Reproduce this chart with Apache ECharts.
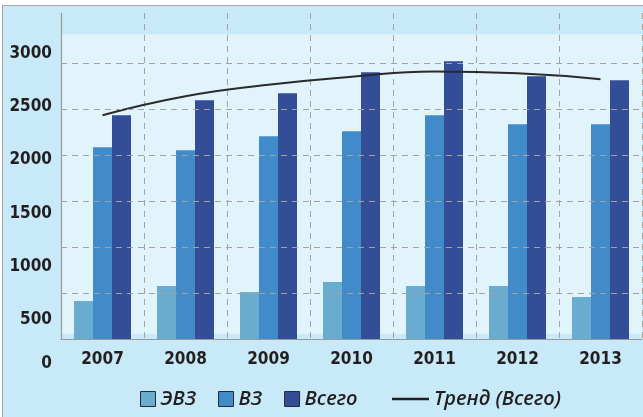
<!DOCTYPE html>
<html>
<head>
<meta charset="utf-8">
<script src="https://cdn.jsdelivr.net/npm/echarts@6/dist/echarts.min.js"></script>
<style>
  html, body { margin: 0; padding: 0; background: #fff; overflow: hidden; }
  .frame {
    position: absolute; left: 2px; top: 5px; width: 700px; height: 500px;
    background: #c7e9f8; border: 1.5px solid #a6a6a6;
  }
  #chart { position: absolute; left: 0; top: 0; width: 643px; height: 417px; }
</style>
</head>
<body>
<div class="frame"></div>
<div id="chart"></div>
<script>
const years = ['2007', '2008', '2009', '2010', '2011', '2012', '2013']
const evz = [413, 576, 511, 620, 576, 576, 457]
const vz = [2089, 2056, 2209, 2263, 2437, 2339, 2339]
const total = [2437, 2600, 2677, 2905, 3025, 2862, 2818]
const trend = [2437, 2644, 2769, 2856, 2913, 2894, 2829]
const yTicks = [0, 500, 1000, 1500, 2000, 2500, 3000]
const gridValues = [500, 1000, 1500, 2000, 2500, 3000]

const narrow = '"Liberation Sans Narrow", "DejaVu Sans Condensed", sans-serif'
const textColor = '#231f20'
const dash = [6, 5]
const legendText = {
  color: textColor, fontSize: 20, fontStyle: 'italic', fontWeight: 600,
  fontFamily: '"Open Sans", sans-serif'
}

const chart = echarts.init(document.getElementById('chart'))

const option = {
  animation: false,
  grid: [
    {
      left: 61, right: 1, top: 13, bottom: 78,
      show: true, backgroundColor: '#e1f3fb', borderWidth: 0
    },
    // grid only used to place the y tick labels
    { left: 60, width: 10, top: 53.3, bottom: 43.7 }
  ],
  legend: [
    {
      data: ['ЭВЗ', 'ВЗ', 'Всего'],
      left: 135, top: 384,
      icon: 'rect',
      itemWidth: 15, itemHeight: 15, itemGap: 22,
      itemStyle: { borderColor: '#2b2b2b', borderWidth: 1 },
      textStyle: legendText
    },
    {
      data: ['Тренд (Всего)'],
      left: 387, top: 384,
      icon: 'rect',
      itemWidth: 37, itemHeight: 2.5,
      itemStyle: { color: '#231f20', borderWidth: 0 },
      textStyle: legendText
    }
  ],
  xAxis: [
    {
      type: 'category',
      data: years,
      z: 3,
      axisLine: { lineStyle: { color: '#9a9a9a', width: 1.2 } },
      axisTick: { show: false },
      axisLabel: {
        margin: 12, color: textColor, fontSize: 17, fontWeight: 'bold', fontFamily: narrow
      },
      splitLine: { show: true, lineStyle: { color: '#a3a3a3', type: dash, width: 1 } }
    },
    { gridIndex: 1, type: 'value', show: false, min: 0, max: 1 }
  ],
  yAxis: [
    {
      type: 'value',
      min: 0,
      max: 3550,
      z: 3,
      axisLine: { show: true, lineStyle: { color: '#9a9a9a', width: 1.2 } },
      axisTick: { show: false },
      axisLabel: { show: false },
      splitLine: { show: false }
    },
    {
      gridIndex: 1,
      type: 'value',
      min: 0,
      max: 3000,
      interval: 500,
      axisLine: { show: false },
      axisTick: { show: false },
      splitLine: { show: false },
      axisLabel: {
        margin: 8, color: textColor, fontSize: 17, fontWeight: 'bold', fontFamily: narrow,
        formatter: (v) => {
          const t = yTicks.indexOf(v) === 0 ? '{z|' + v + '}' : String(v)
          return t
        },
        rich: {
          z: {
            color: textColor, fontSize: 17, fontWeight: 'bold', fontFamily: narrow,
            padding: [0, 0, 20, 0]
          }
        }
      }
    }
  ],
  series: [
    {
      // background bands of the plot area
      type: 'line',
      data: [],
      z: 1,
      silent: true,
      markArea: {
        silent: true,
        itemStyle: { color: '#c7e9f8' },
        data: [
          [{ yAxis: 3319 }, { yAxis: 3550 }],
          [{ yAxis: 0 }, { yAxis: 54 }]
        ]
      }
    },
    {
      // horizontal dashed grid lines
      type: 'line',
      data: [],
      z: 1.5,
      silent: true,
      markLine: {
        silent: true,
        symbol: 'none',
        label: { show: false },
        lineStyle: { color: '#a3a3a3', type: dash, width: 1.2 },
        data: gridValues.map(v => ({ yAxis: v }))
      }
    },
    {
      name: 'ЭВЗ',
      type: 'bar',
      data: evz,
      barWidth: 19,
      barGap: '0%',
      itemStyle: { color: '#69acd0' }
    },
    {
      name: 'ВЗ',
      type: 'bar',
      data: vz,
      barWidth: 19,
      barGap: '0%',
      itemStyle: { color: '#418bca' }
    },
    {
      name: 'Всего',
      type: 'bar',
      data: total,
      barWidth: 19,
      barGap: '0%',
      itemStyle: { color: '#334d97' }
    },
    {
      name: 'Тренд (Всего)',
      type: 'line',
      data: trend,
      smooth: true,
      symbol: 'none',
      z: 4,
      itemStyle: { color: '#2a2a2a' },
      lineStyle: { color: '#2a2a2a', width: 2 }
    },
    { type: 'scatter', xAxisIndex: 1, yAxisIndex: 1, data: [] }
  ]
}

chart.setOption(option)
</script>
</body>
</html>
